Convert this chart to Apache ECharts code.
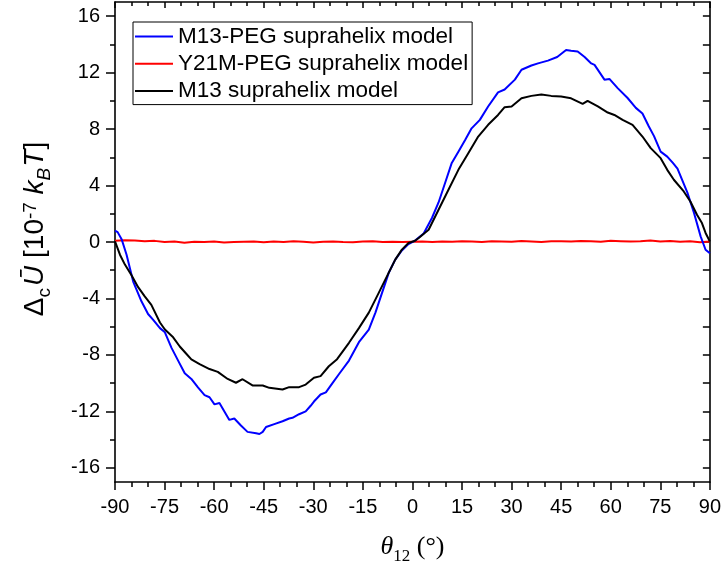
<!DOCTYPE html>
<html>
<head>
<meta charset="utf-8">
<script src="https://cdn.jsdelivr.net/npm/echarts@6/dist/echarts.min.js"></script>
<style>
html,body{margin:0;padding:0;background:#fff;}
#chart{width:724px;height:571px;}
</style>
</head>
<body>
<div id="chart"></div>
<script>
// ---- data ----
const seriesNames = ['M13-PEG suprahelix model', 'Y21M-PEG suprahelix model', 'M13 suprahelix model'];

const blueX = [-90,-89.2,-88,-86.5,-84.5,-82,-80,-78.5,-76.4,-74.9,-72.9,-70.9,-68.9,-66.9,-64.9,-62.9,-61.4,-59.9,-58.4,-56.9,-55.4,-53.9,-51.9,-49.9,-47.3,-46.3,-45.3,-44.3,-41.8,-39.3,-37.3,-36.3,-34.3,-32.3,-30.8,-29.8,-27.8,-26.2,-24.2,-22.2,-19.2,-16.2,-13.2,-11.2,-9.2,-7.2,-5.2,-3.2,-1.2,0.8,3.4,5.9,7.9,9.9,11.9,13.9,15.9,17.9,20.4,22.9,25.9,27.9,31,33,36,38,41,43.8,46.5,48,50,52.1,54.1,55.1,58.1,59.6,62.1,65.1,67.6,69.6,71.5,73.1,75.1,77.1,78.8,80.2,83.2,85.2,87.2,88.7,90];
const blueY = [0.8,0.7,0.2,-0.9,-2.8,-4.2,-5.1,-5.5,-6.1,-6.4,-7.5,-8.4,-9.3,-9.7,-10.3,-10.85,-11.0,-11.5,-11.4,-12.0,-12.6,-12.5,-13.0,-13.45,-13.55,-13.6,-13.45,-13.1,-12.9,-12.7,-12.5,-12.45,-12.2,-12.0,-11.6,-11.3,-10.8,-10.65,-10.0,-9.35,-8.4,-7.1,-6.2,-5.0,-3.6,-2.2,-1.25,-0.6,-0.15,0.1,0.6,1.7,2.8,4.2,5.6,6.4,7.2,8.05,8.65,9.6,10.6,10.8,11.5,12.2,12.5,12.65,12.85,13.1,13.6,13.55,13.5,13.1,12.65,12.55,11.5,11.55,10.9,10.2,9.5,9.1,8.2,7.5,6.4,6.05,5.6,5.2,3.5,2.05,0.4,-0.55,-0.8];

const blackX = [-90,-88.5,-87,-85,-83,-81,-79,-76.4,-74.9,-72.4,-70.4,-68.5,-66.9,-64.4,-61.4,-58.9,-55.9,-53.4,-51.4,-48.4,-45.3,-43.3,-39.3,-37.3,-34.3,-32.3,-29.8,-27.8,-25.3,-22.8,-19.2,-16.2,-13.2,-10.2,-7.2,-5.2,-3.2,-1.2,0.8,1.9,4.9,7.9,10.9,13.9,16.9,19.9,22.9,25.9,27.9,30,33,36,39,42,45,48,51.5,53,56.1,59.1,61.1,63.6,66.6,69.6,72.1,75.1,77.1,79.1,82.1,84.1,86.1,87.6,88.7,90];
const blackY = [0.05,-0.9,-1.6,-2.35,-3.2,-3.85,-4.45,-5.7,-6.2,-6.75,-7.4,-7.9,-8.32,-8.65,-9.0,-9.2,-9.7,-9.97,-9.72,-10.16,-10.16,-10.33,-10.45,-10.28,-10.28,-10.1,-9.62,-9.5,-8.8,-8.3,-7.14,-6.1,-5.0,-3.6,-2.19,-1.25,-0.54,-0.07,0.09,0.28,0.87,2.28,3.7,5.11,6.29,7.47,8.3,9.0,9.55,9.6,10.18,10.35,10.45,10.35,10.3,10.18,9.78,10.0,9.6,9.17,9.0,8.65,8.3,7.47,6.65,5.94,5.11,4.41,3.58,2.87,1.93,1.34,0.64,0.04];

const redX = [-90,-87,-84,-81,-78,-75,-72,-69,-66,-63,-60,-57,-54,-51,-48,-45,-42,-39,-36,-33,-30,-27,-24,-21,-18,-15,-12,-9,-6,-3,0,3,6,9,12,15,18,21,24,27,30,33,36,39,42,45,48,51,54,57,60,63,66,69,72,75,78,81,84,87,90];
const redY = [0.08,0.12,0.1,0.05,0.08,0.0,0.03,-0.05,0.02,0.0,0.03,-0.04,0.0,0.02,0.04,-0.02,0.03,0.0,0.05,0.02,-0.03,0.01,0.04,0.0,-0.02,0.03,0.05,0.0,0.02,0.0,0.02,0.03,0.0,0.04,0.02,0.05,0.03,0.0,0.06,0.04,0.02,0.07,0.04,0.0,0.05,0.06,0.03,0.07,0.05,0.02,0.08,0.06,0.03,0.06,0.1,0.04,0.07,0.02,0.05,-0.02,0.04];

const yMajorTicks = [-16,-12,-8,-4,0,4,8,12,16];
const yMinorTicks = [-14,-10,-6,-2,2,6,10,14];
const yAllTicks = [-16,-14,-12,-10,-8,-6,-4,-2,0,2,4,6,8,10,12,14,16];

// ---- chart ----
const zip = (xs, ys) => xs.map((x, i) => [x, ys[i]]);
const sans = 'Arial, "Liberation Sans", sans-serif';
const serif = '"Times New Roman", "Liberation Serif", serif';
const axLine = {show: true, onZero: false, lineStyle: {color: '#000', width: 1.6}};

const chart = echarts.init(document.getElementById('chart'), null, {renderer: 'canvas'});
chart.setOption({
  animation: false,
  backgroundColor: '#fff',
  grid: {left: 115, right: 11, top: 2, bottom: 89, containLabel: false},
  legend: {
    orient: 'vertical', left: 133, top: 22,
    padding: [3, 4, 2, 2],
    borderColor: '#000', borderWidth: 1, backgroundColor: '#fff',
    icon: 'rect',
    itemWidth: 38, itemHeight: 2, itemGap: 4.3,
    textStyle: {fontFamily: sans, fontSize: 22.5, color: '#000', lineHeight: 22},
    data: seriesNames
  },
  xAxis: [
    {
      type: 'value', position: 'bottom', min: -90, max: 90, interval: 15,
      axisLine: axLine,
      axisTick: {show: true, length: 8, lineStyle: {color: '#000', width: 1.5}},
      minorTick: {show: true, splitNumber: 3, length: 5, lineStyle: {color: '#000', width: 1.5}},
      splitLine: {show: false},
      axisLabel: {fontFamily: sans, fontSize: 20, color: '#000', margin: 15},
      name: '{i|θ}{s|12}{n| (°)}',
      nameLocation: 'middle', nameGap: 52,
      nameTextStyle: {
        fontFamily: serif, fontSize: 26, color: '#000',
        rich: {
          i: {fontFamily: serif, fontSize: 26, fontStyle: 'italic', color: '#000', verticalAlign: 'bottom'},
          s: {fontFamily: serif, fontSize: 17, color: '#000', verticalAlign: 'bottom', padding: [0, 0, -5, 0]},
          n: {fontFamily: serif, fontSize: 26, color: '#000', verticalAlign: 'bottom'}
        }
      }
    },
    {
      type: 'value', position: 'top', min: -90, max: 90, interval: 15,
      axisLine: axLine,
      axisTick: {show: true, inside: true, length: 6, lineStyle: {color: '#000', width: 1.5}},
      minorTick: {show: true, splitNumber: 3, length: 4, lineStyle: {color: '#000', width: 1.5}},
      splitLine: {show: false},
      axisLabel: {show: false}
    }
  ],
  yAxis: [
    {
      type: 'value', position: 'left', min: -17, max: 17,
      axisLine: axLine,
      axisTick: {show: true, length: 9, customValues: yMajorTicks, lineStyle: {color: '#000', width: 1.5}},
      splitLine: {show: false},
      axisLabel: {fontFamily: sans, fontSize: 20, color: '#000', margin: 15, customValues: yMajorTicks},
      name: '{n|Δ}{sb|c}{it|Ū}{n| [10}{sp|-7}{n| }{it|k}{sbi|B}{it|T}{n|]}',
      nameLocation: 'middle', nameGap: 66, nameRotate: 90,
      nameTextStyle: {
        fontFamily: sans, fontSize: 28, color: '#000', padding: [0, 0, 0, 26],
        rich: {
          n: {fontFamily: sans, fontSize: 28, color: '#000', verticalAlign: 'bottom'},
          it: {fontFamily: sans, fontSize: 28, fontStyle: 'italic', color: '#000', verticalAlign: 'bottom'},
          sb: {fontFamily: sans, fontSize: 19, color: '#000', verticalAlign: 'bottom', padding: [0, 2, -5, 0]},
          sbi: {fontFamily: sans, fontSize: 19, fontStyle: 'italic', color: '#000', verticalAlign: 'bottom', padding: [0, 1, -5, 0]},
          sp: {fontFamily: sans, fontSize: 19, color: '#000', verticalAlign: 'top'}
        }
      }
    },
    {
      type: 'value', position: 'left', min: -17, max: 17,
      axisLine: {show: false, onZero: false},
      axisTick: {show: true, length: 5, customValues: yMinorTicks, lineStyle: {color: '#000', width: 1.5}},
      splitLine: {show: false},
      axisLabel: {show: false}
    },
    {
      type: 'value', position: 'right', min: -17, max: 17,
      axisLine: axLine,
      axisTick: {show: true, inside: true, length: 7, customValues: yAllTicks, lineStyle: {color: '#000', width: 1.5}},
      splitLine: {show: false},
      axisLabel: {show: false}
    }
  ],
  series: [
    {name: seriesNames[0], type: 'line', data: zip(blueX, blueY), symbol: 'none', smooth: false,
     lineStyle: {color: '#0000ff', width: 2}, itemStyle: {color: '#0000ff'}, z: 3},
    {name: seriesNames[1], type: 'line', data: zip(redX, redY), symbol: 'none',
     lineStyle: {color: '#ff0000', width: 2}, itemStyle: {color: '#ff0000'}, z: 2},
    {name: seriesNames[2], type: 'line', data: zip(blackX, blackY), symbol: 'none',
     lineStyle: {color: '#000000', width: 2}, itemStyle: {color: '#000000'}, z: 4}
  ]
});
</script>
</body>
</html>
